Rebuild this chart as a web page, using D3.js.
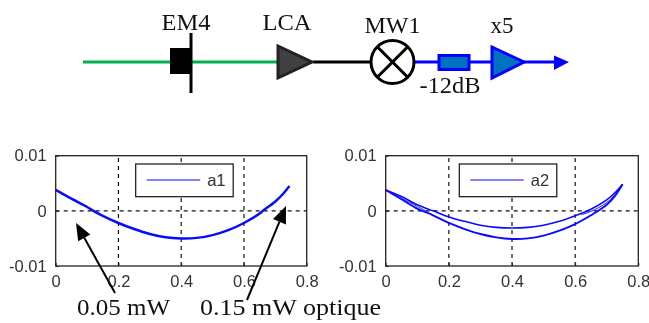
<!DOCTYPE html>
<html><head><meta charset="utf-8">
<script src="https://cdn.jsdelivr.net/npm/d3@7"></script>
<style>
html,body{margin:0;padding:0;background:#fff}
svg{display:block;filter:blur(0.35px)}
.tick text{font-family:"Liberation Sans",Arial,sans-serif;font-size:16.5px;fill:#333}
.lab{font-family:"Liberation Serif",serif;fill:#111}
</style></head><body>
<svg id="c" width="649" height="323"></svg>
<script>
const xTicks=[0,0.2,0.4,0.6,0.8];
const xTickLabels=["0","0.2","0.4","0.6","0.8"];
const yTicks=[-0.01,0,0.01];
const yTickLabels=["-0.01","0","0.01"];
const a1X=[0,0.05,0.1,0.12,0.15,0.2,0.25,0.3,0.35,0.4,0.45,0.5,0.55,0.6,0.65,0.66,0.7,0.725,0.745];
const a1Y=[0.0038,0.0022,0.0007,0,-0.0009,-0.0022,-0.0033,-0.0042,-0.0048,-0.005,-0.0049,-0.0044,-0.0035,-0.0022,-0.0005,0,0.0017,0.0031,0.0045];
const a2LowX=[0,0.05,0.1,0.15,0.2,0.25,0.3,0.35,0.4,0.45,0.5,0.55,0.6,0.65,0.7,0.73,0.75];
const a2LowY=[0.0038,0.0021,0.0004,-0.0008,-0.0022,-0.0033,-0.0042,-0.0048,-0.0051,-0.005,-0.0045,-0.0036,-0.0024,-0.0008,0.0011,0.003,0.0048];
const a2UpX=[0,0.05,0.1,0.15,0.2,0.25,0.3,0.35,0.4,0.45,0.5,0.55,0.6,0.65,0.7,0.73,0.75];
const a2UpY=[0.0038,0.0026,0.0011,0,-0.0011,-0.0019,-0.0026,-0.003,-0.0031,-0.003,-0.0026,-0.0019,-0.0009,0.0003,0.002,0.0035,0.0048];
const a2LoopLX=[0,0.05,0.1,0.13];
const a2LoopLY=[0.0038,0.0023,0.0008,-0.0001];
const a2LoopRX=[0.62,0.65,0.7,0.73,0.75];
const a2LoopRY=[-0.0007,-0.0001,0.0015,0.0032,0.0048];

const svg=d3.select("#c");
const blue="#0a0aff";
const line=(x,y,fn)=>d3.line().x(d=>x(d[0])).y(d=>y(d[1])).curve(d3.curveCatmullRom)(fn);
const zip=(a,b)=>a.map((v,i)=>[v,b[i]]);

function panel(left,right,series,sw,name,leg){
  const x=d3.scaleLinear().domain([0,0.8]).range([left,right]);
  const y=d3.scaleLinear().domain([-0.01,0.01]).range([266,155.7]);
  const g=svg.append("g");
  g.selectAll("line.gx").data(xTicks.slice(1,-1)).join("line")
    .attr("x1",d=>x(d)).attr("x2",d=>x(d)).attr("y1",y(-0.01)).attr("y2",y(0.01))
    .attr("stroke","#111").attr("stroke-width",1.2).attr("stroke-dasharray","4 4");
  g.append("line").attr("x1",x(0)).attr("x2",x(0.8)).attr("y1",y(0)).attr("y2",y(0))
    .attr("stroke","#111").attr("stroke-width",1.2).attr("stroke-dasharray","4 4");
  series.forEach((s,i)=>g.append("path").attr("d",line(x,y,s)).attr("fill","none")
    .attr("stroke",blue).attr("stroke-width",sw[i]));
  const ax=d3.axisBottom(x).tickValues(xTicks).tickFormat((v,i)=>xTickLabels[i]).tickSize(-3).tickPadding(9);
  const ay=d3.axisLeft(y).tickValues(yTicks).tickFormat((v,i)=>yTickLabels[i]).tickSize(-3).tickPadding(9);
  const gx=g.append("g").attr("transform",`translate(0,${y(-0.01)})`).call(ax);
  const gy=g.append("g").attr("transform",`translate(${x(0)},0)`).call(ay);
  [gx,gy].forEach(a=>{a.select(".domain").remove();a.selectAll("line").attr("stroke","#222");});
  g.append("rect").attr("x",left).attr("y",155.7).attr("width",right-left).attr("height",110.3)
    .attr("fill","none").attr("stroke","#222").attr("stroke-width",1.3);
  g.append("rect").attr("x",leg[0]).attr("y",164).attr("width",97.5).attr("height",32.7)
    .attr("fill","#fff").attr("stroke","#111").attr("stroke-width",1.2);
  g.append("line").attr("x1",leg[0]+11).attr("x2",leg[0]+64.5).attr("y1",180).attr("y2",180)
    .attr("stroke",blue).attr("stroke-width",1.2);
  g.append("text").attr("x",leg[0]+71.5).attr("y",186).text(name)
    .attr("font-family","Liberation Sans, Arial, sans-serif").attr("font-size",16.5).attr("fill","#333");
}
panel(55.7,306.7,[zip(a1X,a1Y)],[2.5],"a1",[135.7]);
panel(385.7,638.3,[zip(a2LowX,a2LowY),zip(a2UpX,a2UpY),zip(a2LoopLX,a2LoopLY),zip(a2LoopRX,a2LoopRY)],[1.9,1.6,0.9,0.9],"a2",[459.3]);

const d=svg.append("g");
const seg=(x1,x2,c,w)=>d.append("line").attr("x1",x1).attr("x2",x2).attr("y1",62).attr("y2",62).attr("stroke",c).attr("stroke-width",w);
seg(83,277,"#00b050",3);
seg(313,372,"#000",3);
seg(412,555,"#0000ff",3);
d.append("rect").attr("x",170).attr("y",48).attr("width",21).attr("height",26).attr("fill","#000");
d.append("line").attr("x1",191).attr("x2",191).attr("y1",33).attr("y2",93).attr("stroke","#000").attr("stroke-width",3);
d.append("polygon").attr("points","278,46 278,78 312,62").attr("fill","#404040").attr("stroke","#222").attr("stroke-width",3);
d.append("circle").attr("cx",392.5).attr("cy",62).attr("r",21.5).attr("fill","#fff").attr("stroke","#000").attr("stroke-width",3);
[[-15,-15,15,15],[-15,15,15,-15]].forEach(c=>d.append("line")
  .attr("x1",392.5+c[0]).attr("y1",62+c[1]).attr("x2",392.5+c[2]).attr("y2",62+c[3])
  .attr("stroke","#000").attr("stroke-width",3));
d.append("rect").attr("x",439).attr("y",55.5).attr("width",30).attr("height",14).attr("fill","#0070c0").attr("stroke","#0000ff").attr("stroke-width",3);
d.append("polygon").attr("points","492,47 492,78 524,62").attr("fill","#0070c0").attr("stroke","#0000ff").attr("stroke-width",3);
d.append("polygon").attr("points","554,55.5 569,62 554,70").attr("fill","#0000ff");

const labels=["EM4","LCA","MW1","-12dB","x5"];
const labelX=[186,287,392.5,450,502];
const labelY=[30,30,33,93,33];
const labelW=[49,49,56,61,23];
svg.selectAll("text.lab1").data(labels).join("text").attr("class","lab lab1")
  .attr("x",(t,i)=>labelX[i]-labelW[i]/2).attr("y",(t,i)=>labelY[i])
  .attr("textLength",(t,i)=>labelW[i]).attr("lengthAdjust","spacingAndGlyphs")
  .attr("font-size",24).text(t=>t);

const arrow=(x1,y1,x2,y2)=>{
  const a=Math.atan2(y2-y1,x2-x1),L=17,W=7;
  const bx=x2-L*Math.cos(a),by=y2-L*Math.sin(a);
  svg.append("line").attr("x1",x1).attr("y1",y1).attr("x2",bx).attr("y2",by).attr("stroke","#000").attr("stroke-width",2);
  svg.append("polygon").attr("points",[[x2,y2],[bx+W*Math.sin(a),by-W*Math.cos(a)],[bx-W*Math.sin(a),by+W*Math.cos(a)]].join(" ")).attr("fill","#000");
};
arrow(115,293,76,223);
arrow(247,300,286,206);
const notes=["0.05 mW","0.15 mW optique"];
const noteX=[77,200];
const noteW=[93,181];
svg.selectAll("text.note").data(notes).join("text").attr("class","lab note")
  .attr("x",(t,i)=>noteX[i]).attr("y",315).attr("font-size",24)
  .attr("textLength",(t,i)=>noteW[i]).attr("lengthAdjust","spacingAndGlyphs").text(t=>t);
</script></body></html>
